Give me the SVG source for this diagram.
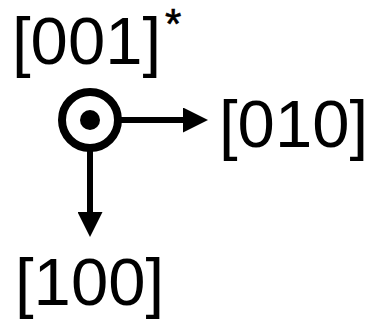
<svg xmlns="http://www.w3.org/2000/svg" width="369" height="320" viewBox="0 0 369 320">
  <defs>
    <style>
      .lbl { font-family: "Liberation Sans", Arial, sans-serif; font-size: 67px; fill: #000; }
      .sup { font-family: "Liberation Sans", Arial, sans-serif; font-size: 42px; fill: #000; stroke: #000; stroke-width: 0.6; }
      .conn { stroke: #000; stroke-width: 6; fill: none; }
    </style>
    <marker id="ah" viewBox="0 0 25 25" refX="0" refY="12.5" markerWidth="25" markerHeight="25" markerUnits="userSpaceOnUse" orient="auto">
      <path d="M0,0 L25,12.5 L0,25 Z" fill="#000"/>
    </marker>
  </defs>
  <rect width="369" height="320" fill="#fff"/>
  <g id="connectors">
    <line class="conn" x1="120" y1="120" x2="183" y2="120" marker-end="url(#ah)"/>
    <line class="conn" x1="90" y1="150" x2="90" y2="212" marker-end="url(#ah)"/>
  </g>
  <g id="axis-001">
    <circle cx="90" cy="120" r="28" fill="none" stroke="#000" stroke-width="8"/>
    <circle cx="90" cy="120" r="10" fill="#000"/>
    <text class="lbl" x="12" y="64">[001]</text>
    <text class="sup" x="165" y="38">*</text>
  </g>
  <g id="axis-010">
    <text class="lbl" x="219" y="147">[010]</text>
  </g>
  <g id="axis-100">
    <text class="lbl" x="15" y="305">[100]</text>
  </g>
</svg>
